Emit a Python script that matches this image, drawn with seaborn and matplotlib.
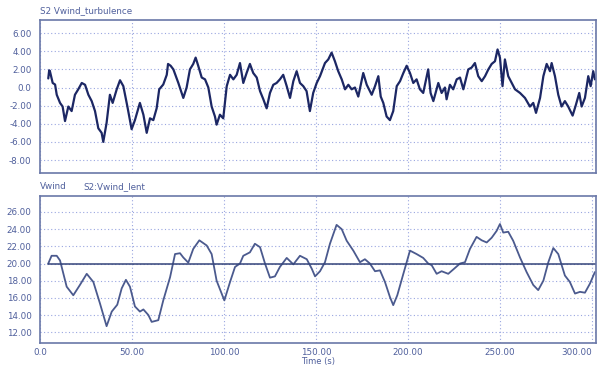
import numpy as np
import pandas as pd
import matplotlib
matplotlib.use("Agg")
import matplotlib.pyplot as plt
from matplotlib.ticker import FixedLocator, FuncFormatter
import seaborn as sns

# --- S2 Vwind_turbulence (m/s) ---
turb_t = [4.5, 5.0, 5.4, 6.9, 8.2, 9.1, 10.9, 12.3, 13.6, 15.4, 17.2, 19.0, 20.8, 22.7,
          24.5, 26.3, 28.1, 29.9, 31.7, 33.5, 34.4, 36.2, 38.0, 39.5, 41.7, 43.5, 45.3,
          47.5, 49.8, 51.6, 54.3, 56.2, 58.0, 59.8, 61.6, 63.4, 64.8, 67.0, 68.9, 69.6,
          71.0, 72.5, 75.2, 77.9, 79.7, 81.5, 83.3, 84.6, 86.0, 87.9, 89.7, 91.5, 93.3,
          95.1, 96.0, 97.8, 99.6, 101.5, 103.3, 105.1, 106.9, 108.7, 110.5, 112.3, 114.1,
          115.9, 117.8, 119.6, 121.4, 123.2, 125.0, 126.8, 128.6, 130.4, 132.2, 134.1,
          135.9, 137.7, 139.5, 141.3, 143.1, 144.9, 146.7, 148.5, 150.4, 152.2, 154.9,
          156.7, 158.5, 160.3, 162.1, 164.0, 165.8, 167.6, 169.4, 171.2, 173.0, 175.7,
          177.6, 180.3, 182.1, 183.9, 185.2, 186.6, 188.4, 190.2, 192.0, 193.9, 195.7,
          197.5, 199.3, 201.1, 202.9, 204.7, 206.5, 208.3, 211.0, 212.3, 213.8, 216.5,
          218.3, 220.1, 221.0, 222.8, 224.6, 226.5, 228.3, 230.1, 232.8, 234.6, 236.4,
          238.2, 240.1, 241.9, 243.7, 245.5, 247.3, 248.7, 250.0, 251.4, 252.7, 254.5,
          256.4, 258.2, 260.9, 263.6, 266.3, 268.1, 269.6, 271.8, 273.6, 275.4, 277.2,
          278.1, 279.9, 281.7, 283.5, 285.3, 287.1, 289.5, 291.3, 293.1, 294.4, 296.2,
          298.0, 299.3, 300.7, 301.6]
turb_v = [1.0, 1.9, 1.8, 0.5, 0.33, -0.8, -1.7, -2.1, -3.7, -2.1, -2.6, -0.8, -0.2, 0.5,
          0.3, -0.8, -1.5, -2.6, -4.5, -5.0, -6.0, -3.9, -0.8, -1.7, -0.2, 0.8, 0.15,
          -2.1, -4.6, -3.6, -1.7, -3.0, -5.0, -3.4, -3.6, -2.3, -0.2, 0.33, 1.4, 2.6,
          2.4, 2.0, 0.5, -1.15, 0.0, 2.0, 2.6, 3.3, 2.4, 1.1, 0.9, 0.0, -2.1,
          -3.2, -4.1, -3.0, -3.4, 0.15, 1.4, 0.9, 1.4, 2.7, 0.5, 1.6, 2.6,
          1.6, 1.1, -0.4, -1.3, -2.3, -0.6, 0.3, 0.5, 0.9, 1.4, 0.15,
          -1.15, 0.7, 1.8, 0.5, 0.15, -0.4, -2.6, -0.6, 0.5, 1.25, 2.7,
          3.1, 3.85, 2.9, 1.8, 0.9, -0.2, 0.3, -0.2, 0.0, -1.0, 1.6,
          0.3, -0.8, 0.15, 1.25, -1.0, -1.7, -3.2, -3.6, -2.6, 0.15, 0.7,
          1.6, 2.4, 1.6, 0.5, 0.9, -0.2, -0.6, 2.0, -0.6, -1.5, 0.5,
          -0.6, 0.0, -1.3, 0.3, -0.2, 0.9, 1.1, -0.2, 2.0, 2.2, 2.7,
          1.25, 0.7, 1.25, 2.0, 2.6, 2.9, 4.2, 3.3, 0.15, 3.1, 1.25,
          0.5, -0.2, -0.6, -1.15, -2.1, -1.7, -2.8, -1.15, 1.25, 2.6, 1.8,
          2.7, 1.25, -0.8, -2.1, -1.5, -2.1, -3.1, -1.9, -0.6, -2.1, -1.15,
          1.25, 0.15, 1.8, 0.9]

# --- S2:Vwind_lent (m/s) ---
lent_t = [4.5, 6.3, 9.1, 10.9, 14.5, 18.1, 21.7, 25.4, 29.0, 32.6, 36.2, 39.0, 42.0,
          44.4, 46.7, 48.9, 51.6, 54.3, 56.2, 58.9, 60.7, 64.3, 67.0, 70.7, 73.4, 76.1,
          77.9, 80.6, 83.3, 86.6, 90.6, 93.3, 96.0, 100.2, 103.3, 106.0, 108.7, 110.5,
          114.1, 116.8, 119.6, 122.3, 125.0, 127.7, 130.4, 134.1, 137.7, 141.3, 145.0,
          147.7, 149.5, 152.2, 154.9, 157.6, 161.2, 164.0, 166.7, 170.3, 173.9, 176.6,
          179.3, 182.1, 184.8, 187.5, 190.2, 192.0, 194.2, 197.5, 201.1, 204.7, 208.3,
          211.0, 212.9, 215.6, 218.3, 221.9, 224.6, 228.3, 231.0, 233.7, 237.3, 240.1,
          242.8, 245.5, 248.2, 250.0, 251.8, 254.5, 257.2, 260.9, 264.5, 268.1, 270.8,
          273.6, 276.3, 279.0, 281.7, 285.3, 288.0, 290.8, 293.5, 296.2, 298.9, 301.6]
lent_v = [20.0, 20.9, 20.9, 20.35, 17.3, 16.3, 17.5, 18.8, 17.85, 15.35, 12.7, 14.4, 15.2,
          17.1, 18.1, 17.3, 15.0, 14.4, 14.65, 14.0, 13.2, 13.4, 15.7, 18.4, 21.1, 21.2,
          20.7, 20.1, 21.7, 22.7, 22.1, 21.1, 18.0, 15.7, 17.85, 19.6, 20.0, 20.9,
          21.3, 22.3, 21.9, 20.0, 18.35, 18.5, 19.6, 20.65, 19.9, 20.9, 20.5,
          19.4, 18.5, 19.1, 20.15, 22.3, 24.5, 24.0, 22.65, 21.5, 20.15, 20.5,
          20.0, 19.1, 19.2, 17.85, 16.1, 15.15, 16.3, 18.8, 21.5, 21.1, 20.65,
          20.0, 19.8, 18.8, 19.1, 18.8, 19.3, 20.0, 20.15, 21.7, 23.1, 22.7,
          22.45, 23.0, 23.8, 24.6, 23.6, 23.7, 22.65, 20.7, 19.0, 17.5, 16.9,
          18.0, 20.15, 21.8, 21.1, 18.6, 17.85, 16.5, 16.7, 16.6, 17.65, 19.0]

# --- Vwind (mean wind, m/s) ---
mean_t = [4.5, 302.0]
mean_v = [20.0, 20.0]

top_ticks = [6, 4, 2, 0, -2, -4, -6, -8]
bottom_ticks = [26, 24, 22, 20, 18, 16, 14, 12]
time_ticks = [0, 50, 100, 150, 200, 250, 300]

turb_df = pd.DataFrame({"t": turb_t, "v": turb_v})
lent_df = pd.DataFrame({"t": lent_t, "v": lent_v})
mean_df = pd.DataFrame({"t": mean_t, "v": mean_v})

sns.set_style("white")
plt.rcParams["font.family"] = ["DejaVu Sans"]

TEXT = "#4f5f9c"
GRID = "#9aa6e0"
SPINE = "#6a78a8"


def fmt(v, _pos=None):
    return "0.0" if abs(v) < 1e-9 else f"{v:.2f}"


fig = plt.figure(figsize=(6.05, 3.70), dpi=100)
ax1 = fig.add_axes([0.0661, 0.532, 0.9190, 0.414])
ax2 = fig.add_axes([0.0661, 0.072, 0.9190, 0.398])

sns.lineplot(data=turb_df, x="t", y="v", ax=ax1, color="#1c2764", lw=1.6,
             estimator=None, sort=False)
sns.lineplot(data=lent_df, x="t", y="v", ax=ax2, color="#4b5a8e", lw=1.3,
             estimator=None, sort=False)
sns.lineplot(data=mean_df, x="t", y="v", ax=ax2, color="#34447a", lw=1.1,
             estimator=None, sort=False)

ax1.set_ylim(-9.45, 7.45)
ax2.set_ylim(10.7, 27.85)
for ax, yt in ((ax1, top_ticks), (ax2, bottom_ticks)):
    ax.set_xlim(0, 302.2)
    ax.yaxis.set_major_locator(FixedLocator(yt))
    ax.xaxis.set_major_locator(FixedLocator(time_ticks))
    ax.yaxis.set_major_formatter(FuncFormatter(fmt))
    ax.xaxis.set_major_formatter(FuncFormatter(fmt))
    ax.grid(True, which="major", color=GRID, linestyle=(0, (1, 2.2)), lw=0.8)
    ax.tick_params(axis="y", length=0, labelsize=6.3, labelcolor=TEXT, pad=6)
    ax.tick_params(axis="x", length=0, labelsize=6.3, labelcolor=TEXT, pad=3)
    for s in ax.spines.values():
        s.set_visible(True)
        s.set_color(SPINE)
        s.set_linewidth(1.2)
    ax.set_xlabel("")
    ax.set_ylabel("")

ax1.tick_params(axis="x", labelbottom=False)
ax2.set_xlabel("Time (s)", fontsize=6.0, color=TEXT, labelpad=0)

# keep the last time label inside the figure
fig.canvas.draw()
last = ax2.get_xticklabels()[-1]
last.set_horizontalalignment("right")
last.set_x(302.2)

fig.text(0.0661, 0.972, "S2 Vwind_turbulence", fontsize=6.3, color=TEXT, va="center")
fig.text(0.0661, 0.496, "Vwind", fontsize=6.3, color=TEXT, va="center")
fig.text(0.137, 0.496, "S2:Vwind_lent", fontsize=6.3, color=TEXT, va="center")

fig.savefig("out.png", dpi=100, facecolor="white")
